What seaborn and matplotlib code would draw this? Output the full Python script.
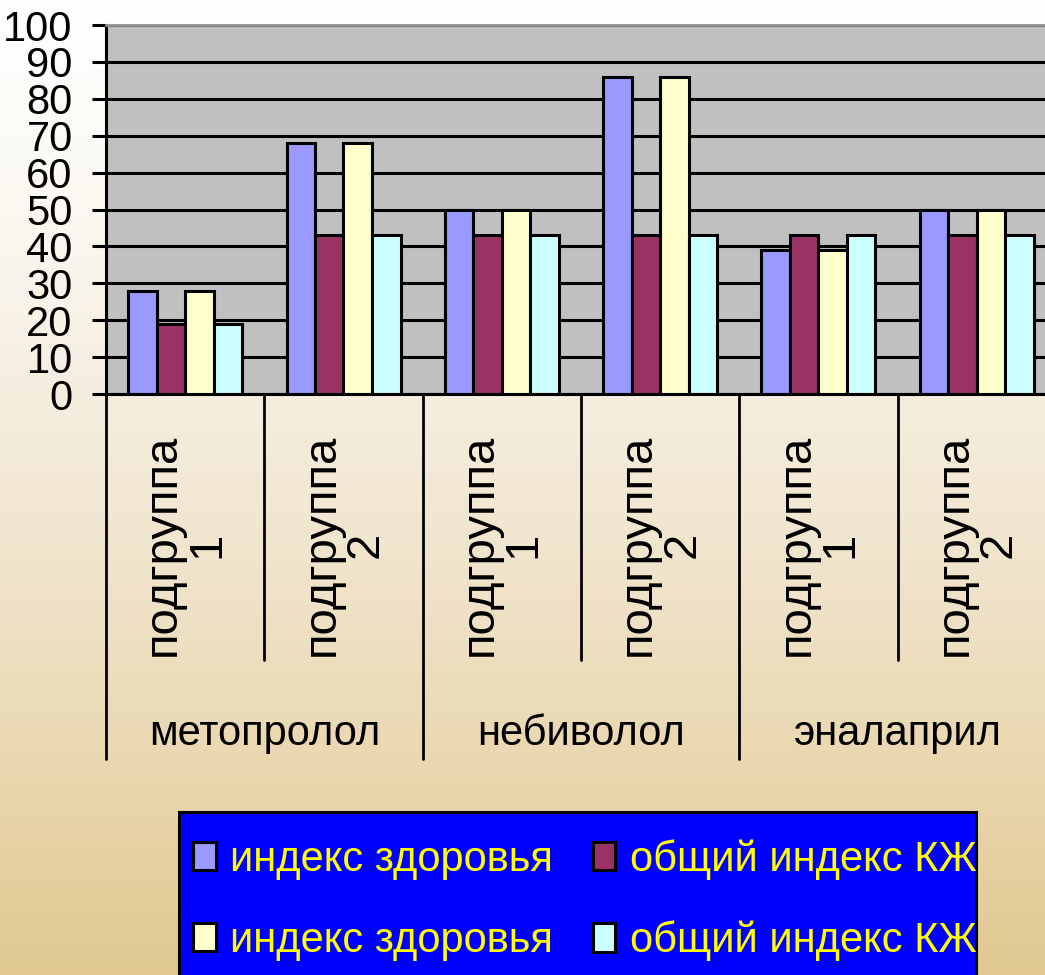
import numpy as np
import pandas as pd
import matplotlib
matplotlib.use("Agg")
import matplotlib.pyplot as plt
import matplotlib.transforms as mtransforms
from matplotlib.patches import Patch, Rectangle
from matplotlib.lines import Line2D
from matplotlib import font_manager
import seaborn as sns

# ---- data ----
drugs = ["метопролол", "небиволол", "эналаприл"]
subgroups = ["подгруппа\n1", "подгруппа\n2"]
series_keys = ["health_a", "qol_a", "health_b", "qol_b"]
series_labels = ["индекс здоровья", "общий индекс КЖ", "индекс здоровья", "общий индекс КЖ"]
series_colors = ["#9999ff", "#993366", "#ffffcc", "#ccffff"]
health_a = [28, 68, 50, 86, 39, 50]
qol_a = [19, 43, 43, 43, 43, 43]
health_b = [28, 68, 50, 86, 39, 50]
qol_b = [19, 43, 43, 43, 43, 43]
y_ticks = list(range(0, 101, 10))

sns.set_theme(style="white")
available = {f.name for f in font_manager.fontManager.ttflist}
narrow = "Liberation Sans Narrow" if "Liberation Sans Narrow" in available else "Liberation Sans"
plt.rcParams["font.family"] = [narrow, "DejaVu Sans"]

cats = [f"{d} {s}" for d in drugs for s in subgroups]
sub_text = [s for d in drugs for s in subgroups]
rows = []
for key, vals in zip(series_keys, [health_a, qol_a, health_b, qol_b]):
    for c, v in zip(cats, vals):
        rows.append({"cat": c, "series": key, "value": v})
df = pd.DataFrame(rows)

W, H = 1045, 975
fig = plt.figure(figsize=(W / 100, H / 100), dpi=100)

# warm vertical gradient behind everything
bg = fig.add_axes([0, 0, 1, 1], zorder=-10)
stops_y = np.array([0, 200, 400, 600, 800, 975]) / H
stops_c = np.array([[255, 255, 255], [252, 249, 243], [245, 237, 222],
                    [239, 226, 200], [232, 213, 170], [224, 200, 144]]) / 255
yy = np.linspace(0, 1, 400)
grad = np.stack([np.interp(yy, stops_y, stops_c[:, k]) for k in range(3)], axis=-1)
bg.imshow(grad[:, None, :], aspect="auto", extent=[0, 1, 1, 0])
bg.set_axis_off()

left, top, bottom_px, right_px = 106, 25, 394, 1056
ax = fig.add_axes([left / W, 1 - bottom_px / H, (right_px - left) / W, (bottom_px - top) / H])
ax.set_facecolor("#c0c0c0")

sns.barplot(data=df, x="cat", y="value", hue="series", order=cats, hue_order=series_keys,
            palette=series_colors, width=0.72, gap=0, saturation=1,
            edgecolor="black", linewidth=2.2, ax=ax, legend=False, errorbar=None)

ax.set_xlim(-0.5, len(cats) - 0.5)
ax.set_ylim(0, 100)
ax.set_yticks(y_ticks)
ax.set_xticks([])
ax.set_xlabel("")
ax.set_ylabel("")
ax.yaxis.grid(True, color="black", linewidth=2.2)
ax.set_axisbelow(True)
ax.tick_params(axis="y", left=True, length=10, width=2.2, pad=14, labelsize=30,
               direction="out", color="black", labelcolor="black")
for side in ["left", "bottom"]:
    ax.spines[side].set_color("black")
    ax.spines[side].set_linewidth(2.2)
ax.spines["top"].set_color("#909090")
ax.spines["top"].set_linewidth(2)
ax.spines["right"].set_visible(False)

# hierarchical category axis
trans = mtransforms.blended_transform_factory(ax.transData, fig.transFigure)
for j, txt in enumerate(sub_text):
    ax.text(j, 1 - 545 / H, txt, rotation=90, ha="center", va="center", rotation_mode="anchor",
            multialignment="center", fontsize=34, linespacing=1.0,
            family=["Liberation Sans", "DejaVu Sans"], transform=trans, color="black")
for j in range(len(cats) + 1):
    x = j - 0.5
    y_end = 759 if j % 2 == 0 else 660
    ax.add_line(Line2D([x, x], [1 - bottom_px / H, 1 - y_end / H], transform=trans,
                       color="black", linewidth=2, clip_on=False))
for i, d in enumerate(drugs):
    ax.text(2 * i + 0.5, 1 - 734 / H, d, ha="center", va="center", fontsize=30,
            transform=trans, color="black")

# legend: blue panel with yellow labels
panel = Rectangle((179 / W, -0.05), (976 - 179) / W, 1 - 812 / H + 0.05,
                  transform=fig.transFigure, facecolor="#0000ff", edgecolor="black",
                  linewidth=2.2, zorder=5)
fig.add_artist(panel)
handles = [Patch(facecolor=c, edgecolor="black", linewidth=2.2) for c in series_colors]
order = [0, 2, 1, 3]
leg = fig.legend([handles[i] for i in order], [series_labels[i] for i in order],
                 ncol=2, loc="upper left", bbox_to_anchor=(193 / W, 1 - 839 / H),
                 frameon=False, labelcolor="#ffff00", fontsize=30,
                 handlelength=0.55, handleheight=0.67, handletextpad=0.34,
                 columnspacing=0.95, labelspacing=0.98, borderpad=0, borderaxespad=0)
leg.set_zorder(6)

fig.savefig("out.png", dpi=100)
